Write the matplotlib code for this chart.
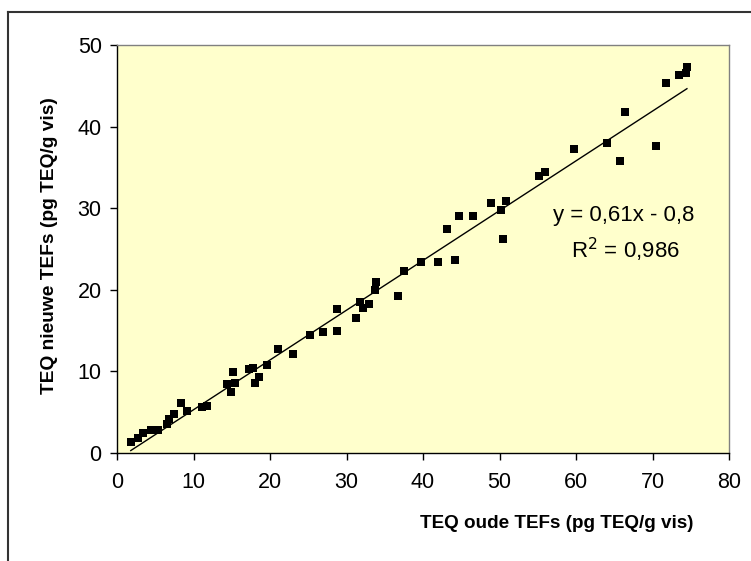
import matplotlib
matplotlib.use("Agg")
import matplotlib.pyplot as plt
from matplotlib.lines import Line2D

plt.rcParams['font.family'] = ['Liberation Sans', 'DejaVu Sans']

# Data
teq_oud = [1.8, 2.8, 3.4, 4.5, 5.4, 6.5, 6.8, 7.4, 8.35, 9.2, 11.1, 11.7,
           14.4, 14.95, 15.1, 15.4, 17.3, 17.8, 18.1, 18.6, 19.6, 21.1,
           23.0, 25.2, 26.9, 28.7, 28.7, 31.3, 31.8, 32.1, 33.0, 33.75, 33.9,
           36.7, 37.5, 39.8, 42.0, 43.1, 44.2, 44.7, 46.6, 48.9, 50.2, 50.4,
           50.9, 55.1, 56.0, 59.7, 64.1, 65.7, 66.4, 70.5, 71.8, 73.4, 74.4, 74.5]
teq_nieuw = [1.4, 1.8, 2.5, 2.8, 2.8, 3.6, 4.2, 4.8, 6.15, 5.2, 5.6, 5.7,
             8.4, 7.5, 9.9, 8.6, 10.25, 10.4, 8.6, 9.3, 10.75, 12.8,
             12.1, 14.4, 14.8, 15.0, 17.6, 16.5, 18.55, 17.8, 18.3, 20.0, 21.0,
             19.2, 22.3, 23.4, 23.4, 27.5, 23.7, 29.0, 29.1, 30.6, 29.8, 26.2,
             30.9, 34.0, 34.4, 37.3, 38.0, 35.8, 41.8, 37.6, 45.3, 46.3, 46.6, 47.3]
fit_slope = 0.61
fit_intercept = -0.8
fit_text = ["y = 0,61x - 0,8", "R$^2$ = 0,986"]
x_ticks = [0, 10, 20, 30, 40, 50, 60, 70, 80]
y_ticks = [0, 10, 20, 30, 40, 50]
x_label = "TEQ oude TEFs (pg TEQ/g vis)"
y_label = "TEQ nieuwe TEFs (pg TEQ/g vis)"

W, H = 751, 561
fig = plt.figure(figsize=(W / 100, H / 100), dpi=100)
fig.patch.set_facecolor('white')

# plot area in pixels: left 117, right 729, top 45, bottom 453
l, r, t, b = 117, 729, 45, 453
ax = fig.add_axes([l / W, 1 - b / H, (r - l) / W, (b - t) / H])
ax.set_facecolor('#FFFFCC')

ax.plot(teq_oud, teq_nieuw, linestyle='none', marker='s', markersize=6.3,
        color='black', markeredgewidth=0, zorder=3)
xf = [min(teq_oud), max(teq_oud)]
yf = [fit_slope * v + fit_intercept for v in xf]
ax.plot(xf, yf, color='black', linewidth=1.0, zorder=2)

ax.set_xlim(0, 80)
ax.set_ylim(0, 50)
ax.set_xticks(x_ticks)
ax.set_yticks(y_ticks)
ax.tick_params(axis='both', direction='out', length=5, width=1, labelsize=15.5,
               colors='black', pad=6)
ax.tick_params(axis='x', pad=9)

for side in ['top', 'right']:
    ax.spines[side].set_color('#808080')
    ax.spines[side].set_linewidth(1.0)
for side in ['left', 'bottom']:
    ax.spines[side].set_color('black')
    ax.spines[side].set_linewidth(1.0)

fig.text(624 / W, 1 - 216 / H, fit_text[0], fontsize=16, ha='center', va='center')
fig.text(625 / W, 1 - 250 / H, fit_text[1], fontsize=16, ha='center', va='center')

fig.text(557 / W, 1 - 523 / H, x_label, fontsize=13.6, fontweight='bold',
         ha='center', va='center')
fig.text(50 / W, 1 - 246 / H, y_label, fontsize=13.8, fontweight='bold',
         ha='center', va='center', rotation=90)

# outer frame: top and left lines only
fig.add_artist(Line2D([8 / W, 1], [1 - 12 / H, 1 - 12 / H], color='#333333',
                      linewidth=1.5, transform=fig.transFigure))
fig.add_artist(Line2D([8 / W, 8 / W], [0, 1 - 12 / H], color='#333333',
                      linewidth=1.5, transform=fig.transFigure))

fig.savefig('out.png', dpi=100)
